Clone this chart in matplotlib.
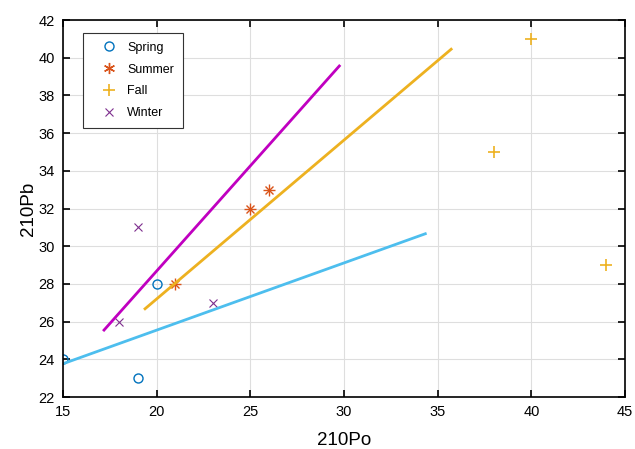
import matplotlib
matplotlib.use("Agg")
import matplotlib.pyplot as plt

plt.rcParams['font.family'] = ['Liberation Sans', 'DejaVu Sans']

spring_x = [15, 19, 20]
spring_y = [24, 23, 28]
summer_x = [21, 25, 26]
summer_y = [28, 32, 33]
fall_x = [40, 38, 44]
fall_y = [41, 35, 29]
winter_x = [19, 18, 23]
winter_y = [31, 26, 27]

line_spring_x = [15.1, 34.34]
line_spring_y = [23.8, 30.66]
line_winter_x = [17.19, 29.75]
line_winter_y = [25.55, 39.56]
line_fall_x = [19.38, 35.72]
line_fall_y = [26.68, 40.45]

xticks = [15, 20, 25, 30, 35, 40, 45]
yticks = [22, 24, 26, 28, 30, 32, 34, 36, 38, 40, 42]

fig = plt.figure(figsize=(6.35, 4.49), dpi=100)
ax = fig.add_axes([63/635, 52/449, 562/635, 377/449])

ax.plot(spring_x, spring_y, 'o', color='#0072BD', mfc='none', ms=6.5, mew=1.0, label='Spring')
ax.plot(summer_x, summer_y, '+', color='#D95319', ms=8, mew=1.0)
ax.plot(summer_x, summer_y, 'x', color='#D95319', ms=5.7, mew=1.0)
ax.plot([], [], marker=(6, 2, 0), ls='none', color='#D95319', ms=8, mew=1.0, label='Summer')
ax.plot(fall_x, fall_y, '+', color='#EDB120', ms=8.5, mew=1.2, label='Fall')
ax.plot(winter_x, winter_y, 'x', color='#7E2F8E', ms=5.5, mew=0.8, label='Winter')

ax.plot(line_spring_x, line_spring_y, '-', color='#4DBEEE', lw=2)
ax.plot(line_winter_x, line_winter_y, '-', color='#C000C0', lw=2)
ax.plot(line_fall_x, line_fall_y, '-', color='#EDB120', lw=2)

ax.set_xlim(15, 45)
ax.set_ylim(22, 42)
ax.set_xticks(xticks)
ax.set_yticks(yticks)
ax.grid(True, color='#dedede', lw=0.8)
ax.set_axisbelow(True)
ax.tick_params(direction='in', top=True, right=True, length=5, width=1.2,
               labelsize=10.5, pad=6)
for s in ax.spines.values():
    s.set_linewidth(1.2)
ax.set_xlabel('210Po', fontsize=13.5, labelpad=9)
ax.set_ylabel('210Pb', fontsize=13.5, labelpad=1)

handles, labels = ax.get_legend_handles_labels()
order = ['Spring', 'Summer', 'Fall', 'Winter']
hd = dict(zip(labels, handles))
leg = ax.legend([hd[k] for k in order], order, loc='upper left',
                bbox_to_anchor=((83-63)/562, (397-33)/377), borderaxespad=0,
                fontsize=9, fancybox=False, edgecolor='#333333', framealpha=1,
                borderpad=0.7, labelspacing=0.78, handlelength=2.7,
                handletextpad=0.15)
leg.get_frame().set_linewidth(0.8)

fig.savefig('out.png', dpi=100)
